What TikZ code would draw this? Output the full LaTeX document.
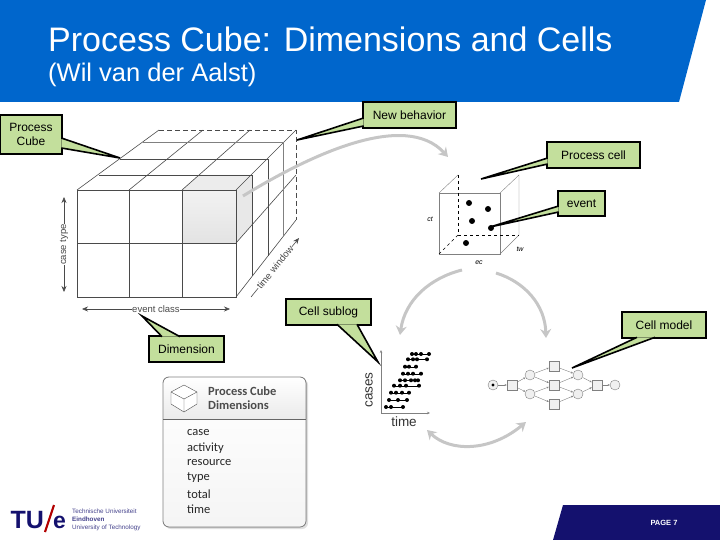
\documentclass[tikz,border=0pt]{standalone}
\usepackage{fontspec}
\setmainfont{Liberation Sans}
\newfontfamily\panelfont{Carlito}
\usetikzlibrary{arrows.meta,calc}
\definecolor{bannerblue}{HTML}{0066CC}
\definecolor{pagenavy}{HTML}{14116E}
\definecolor{calloutgreen}{HTML}{C3DF9C}
\definecolor{flowgray}{HTML}{C6C6C6}
\definecolor{cubegray}{HTML}{4A4A4A}
\tikzset{
	calloutbox/.style={draw=black,line width=1.6pt,fill=calloutgreen,inner sep=0pt,align=center,font=\fontsize{12}{14}\selectfont},
	flowarrow/.style={draw=flowgray,line width=3pt,-{Stealth[length=9pt,width=11pt]}},
	cubeline/.style={draw=cubegray,line width=0.6pt},
	netline/.style={draw=gray,line width=0.4pt,-{Stealth[length=2.2pt,width=2pt]}},
	netplace/.style={circle,draw=gray,line width=0.4pt,fill=gray!12,minimum size=10pt,inner sep=0pt},
	nettrans/.style={rectangle,draw=gray,line width=0.5pt,fill=gray!12,minimum size=10pt,inner sep=0pt},
	dimlabel/.style={text=cubegray,fill=white,inner xsep=0.5pt,inner ysep=0pt,font=\fontsize{9.5}{10}\selectfont},
	dimarrow/.style={draw=cubegray,line width=0.6pt,{Stealth[length=6pt,width=5pt]}-{Stealth[length=6pt,width=5pt]}},
	paneltext/.style={inner sep=0pt,anchor=west,text=black!85,font=\panelfont\fontsize{12.5}{13}\selectfont},
	panelhead/.style={inner sep=0pt,anchor=west,text=black!70,font=\panelfont\bfseries\fontsize{12.5}{13}\selectfont},
	logotext/.style={inner sep=0pt,anchor=base west,text=pagenavy!80,text height=4.5pt,text depth=1pt,font=\fontsize{6.3}{7}\selectfont},
	chartdot/.style={circle,fill=black,inner sep=0pt,minimum size=4pt},
	celldot/.style={circle,fill=black,inner sep=0pt,minimum size=6pt}
}
\newcommand{\callouttail}[4]{
	\fill[calloutgreen] ($(#1)+(#2)$) -- (#4) -- ($(#1)+(#3)$) -- cycle;
	\draw[black,line width=1.6pt,line join=miter] ($(#1)+(#2)$) -- (#4) -- ($(#1)+(#3)$);
}
\begin{document}
\begin{tikzpicture}[x=1pt,y=-1pt]
	\useasboundingbox (0,0) rectangle (720,540);
	\fill[bannerblue] (0,0) -- (706,0) -- (679,102) -- (0,102) -- cycle;
	\fill[pagenavy] (563,505) -- (720,505) -- (720,540) -- (553,540) -- cycle;
	\node[anchor=base west,inner sep=0pt,text=white,font=\fontsize{34}{36}\selectfont] (title) at (48,52) {Process Cube: Dimensions and Cells};
	\node[anchor=base west,inner sep=0pt,text=white,font=\fontsize{25.5}{27}\selectfont] (subtitle) at (48,82) {(Wil van der Aalst)};
	\node[inner sep=0pt,text=white,font=\bfseries\fontsize{7.5}{8}\selectfont] (pagelabel) at (664,523) {PAGE 7};

	\fill[top color=gray!10,bottom color=gray!22] (182,190) rectangle (236,243);
	\fill[gray!15] (182,190) -- (199,175) -- (252,175) -- (236,190) -- cycle;
	\fill[gray!18] (236,190) -- (252,175) -- (252,225) -- (236,243) -- cycle;

	\draw[cubeline] (77,190) rectangle (236,297);
	\draw[cubeline] (77,243) -- (236,243);
	\draw[cubeline,line width=1pt] (129,190) -- (129,297);
	\draw[cubeline] (182,190) -- (182,297);
	\draw[cubeline] (77,190) -- (159,130);
	\draw[cubeline] (129,190) -- (203,130);
	\draw[cubeline] (182,190) -- (250,130);
	\draw[cubeline] (236,190) -- (296,130);
	\draw[cubeline] (236,297) -- (296,220);
	\draw[cubeline] (236,243) -- (296,175);
	\draw[cubeline] (99,175) -- (252,175) -- (252,276);
	\draw[cubeline] (120,159) -- (268,159) -- (268,256);
	\draw[cubeline,gray] (143,142) -- (283,142) -- (283,236);
	\draw[cubeline,dash pattern=on 5pt off 3pt,line width=0.8pt] (159,130) -- (296,130) -- (296,220);

	\draw[dimarrow] (64,197) -- node[dimlabel,rotate=90] (casetype) {case type} (64,292);
	\draw[dimarrow] (82,309) -- node[dimlabel] (eventclass) {event class} (230,309);
	\coordinate (timestart) at (251,297);
	\coordinate (timeend) at (299,238);
	\draw[cubeline,-{Stealth[length=6pt,width=5pt]}] (timestart) -- node[dimlabel,rotate=51] (timewindow) {time window} (timeend);

	\draw[cubeline,gray] (439,193) rectangle (500,254);
	\draw[cubeline,gray,line width=0.4pt] (439,193) -- (458,175);
	\draw[cubeline,gray,line width=0.4pt] (500,193) -- (519,175) -- (519,235) -- (500,254);
	\draw[black,dashed,line width=0.6pt] (458,175) -- (458,235) -- (519,235);
	\draw[black,dashed,line width=0.6pt] (458,235) -- (439,254);
	\node[celldot] (eventa) at (469,203) {};
	\node[celldot] (eventb) at (488,209) {};
	\node[celldot] (eventc) at (472,221) {};
	\node[celldot] (eventd) at (491,228) {};
	\node[celldot] (evente) at (466,243) {};
	\node[inner sep=0pt,font=\itshape\fontsize{7}{8}\selectfont] (ctlabel) at (430,219) {ct};
	\node[inner sep=0pt,font=\itshape\fontsize{7}{8}\selectfont] (twlabel) at (520,249) {tw};
	\node[inner sep=0pt,font=\itshape\fontsize{7}{8}\selectfont] (eclabel) at (479,263) {ec};

	\draw[flowarrow] (243,196) .. controls (310,155) and (405,110) .. (448,157);
	\draw[flowarrow] (462,270) .. controls (430,278) and (405,300) .. (400,335);
	\draw[flowarrow] (496,273) .. controls (525,282) and (545,305) .. (546,338);
	\draw[flowgray,line width=3pt,{Stealth[length=9pt,width=11pt]}-{Stealth[length=9pt,width=11pt]}] (427,430) .. controls (450,452) and (490,452) .. (526,422);

	\coordinate (chartorigin) at (381,413);
	\coordinate (charttop) at (381,350);
	\coordinate (chartright) at (430,413);
	\draw[gray,line width=0.5pt,{Stealth[length=3pt,width=2.5pt]}-{Stealth[length=3pt,width=2.5pt]}] (charttop) -- (chartorigin) -- (chartright);
	\foreach \y/\xlist in {354/{412,416,421,429},359.3/{408,413,417,427},366.7/{405,409,416},373.7/{403,408,413,421},380.3/{400,405,411,415,418},385.7/{394,400,406,419},392.7/{391,396,402,409},400/{389,398,407},407/{386,391,403}}{
		\foreach \x [count=\i] in \xlist {
			\node[chartdot] at (\x,\y) {};
			\ifnum\i=1 \xdef\rowstart{\x}\fi
			\xdef\rowend{\x}
		}
		\draw[black,line width=0.3pt] (\rowstart,\y) -- (\rowend,\y);
	}
	\node[rotate=90,inner sep=0pt,text=black!80,font=\fontsize{13.5}{14}\selectfont] (caseslabel) at (369,390) {cases};
	\node[inner sep=0pt,text=black!80,font=\fontsize{13.5}{14}\selectfont] (timelabel) at (404,422) {time};

	\node[netplace] (pstart) at (493,385) {};
	\fill[black] (pstart) circle (1.6pt);
	\node[nettrans] (tfirst) at (512,385) {};
	\node[netplace] (pa) at (530,375) {};
	\node[netplace] (pb) at (530,394) {};
	\node[nettrans] (ttop) at (554,366) {};
	\node[nettrans] (tmid) at (554,385) {};
	\node[nettrans] (tlow) at (554,404) {};
	\node[netplace] (pc) at (578,375) {};
	\node[netplace] (pd) at (578,394) {};
	\node[nettrans] (tlast) at (597,385) {};
	\node[netplace] (pend) at (615,385) {};
	\foreach \from/\to in {pstart/tfirst,tfirst/pa,tfirst/pb,pa/ttop,pa/tmid,pb/tmid,pb/tlow,ttop/pc,tmid/pc,tmid/pd,tlow/pd,pc/tlast,pd/tlast,tlast/pend}{
		\draw[netline] (\from) -- (\to);
	}

	\fill[gray!25,rounded corners=6pt] (165,379) rectangle (308,529);
	\fill[rounded corners=6pt,top color=white,bottom color=gray!8] (163,377) rectangle (306,527);
	\fill[top color=white,bottom color=gray!16] (163,419) {[rounded corners=6pt] -- (163,377) -- (306,377)} -- (306,419) -- cycle;
	\draw[gray,line width=0.8pt,rounded corners=6pt] (163,377) rectangle (306,527);
	\draw[gray!80!black,line width=0.7pt] (163,419) -- (306,419);
	\draw[black!70,line width=0.4pt,fill=white] (184,385) -- (197,392) -- (197,404) -- (184,412) -- (171,404) -- (171,392) -- cycle;
	\draw[black!70,line width=0.4pt] (171,392) -- (184,399) -- (197,392) (184,399) -- (184,412);
	\node[panelhead] (paneltop) at (208,391) {Process Cube};
	\node[panelhead] (panelsub) at (208,405) {Dimensions};
	\foreach \y/\dimname in {433/case,448/activity,463/resource,478/type,494/total,509/time}{
		\node[paneltext] (item\dimname) at (187,\y) {\dimname};
	}

	\node[inner sep=0pt,anchor=base west,text=pagenavy,font=\bfseries\fontsize{25}{27}\selectfont] (logotu) at (10.5,528) {TU};
	\draw[red!70!black,line width=2.2pt] (45,532) -- (54,505);
	\node[inner sep=0pt,anchor=base west,text=pagenavy,font=\bfseries\fontsize{23}{25}\selectfont] (logoe) at (53,528.5) {e};
	\node[logotext] (logoa) at (72,513) {Technische Universiteit};
	\node[logotext,font=\bfseries\fontsize{6.3}{7}\selectfont] (logob) at (72,521) {Eindhoven};
	\node[logotext] (logoc) at (72,529) {University of Technology};

	\node[calloutbox,minimum width=62pt,minimum height=39pt] (processcube) at (31,134.5) {Process\\Cube};
	\coordinate (processcubetip) at (120,158);
	\callouttail{processcube.east}{-1.5,3.5}{-1.5,13.5}{processcubetip}

	\node[calloutbox,minimum width=93pt,minimum height=26pt] (newbehavior) at (409.5,115) {New behavior};
	\coordinate (newbehaviortip) at (297,140);
	\callouttail{newbehavior.west}{1.5,3}{1.5,11}{newbehaviortip}

	\node[calloutbox,minimum width=93pt,minimum height=26pt] (processcell) at (593.5,155) {Process cell};
	\coordinate (processcelltip) at (481,179);
	\callouttail{processcell.west}{1.5,3}{1.5,9}{processcelltip}

	\node[calloutbox,minimum width=47pt,minimum height=25pt] (eventbox) at (581.5,203.5) {event};
	\coordinate (eventtip) at (490,227);
	\callouttail{eventbox.west}{1.5,2.5}{1.5,8.5}{eventtip}

	\node[calloutbox,minimum width=85pt,minimum height=26pt] (cellsublog) at (328.5,312) {Cell sublog};
	\coordinate (cellsublogtip) at (378,362);
	\callouttail{cellsublog.south}{8.5,-1.5}{28.5,-1.5}{cellsublogtip}

	\node[calloutbox,minimum width=84pt,minimum height=26pt] (cellmodel) at (664,325) {Cell model};
	\coordinate (cellmodeltip) at (572,368);
	\callouttail{cellmodel.south}{-27,-1.5}{-9,-1.5}{cellmodeltip}

	\node[calloutbox,minimum width=75pt,minimum height=26pt] (dimension) at (186.5,349) {Dimension};
	\coordinate (dimensiontip) at (142,316);
	\callouttail{dimension.north}{-24.5,1.5}{-6.5,1.5}{dimensiontip}
\end{tikzpicture}
\end{document}
